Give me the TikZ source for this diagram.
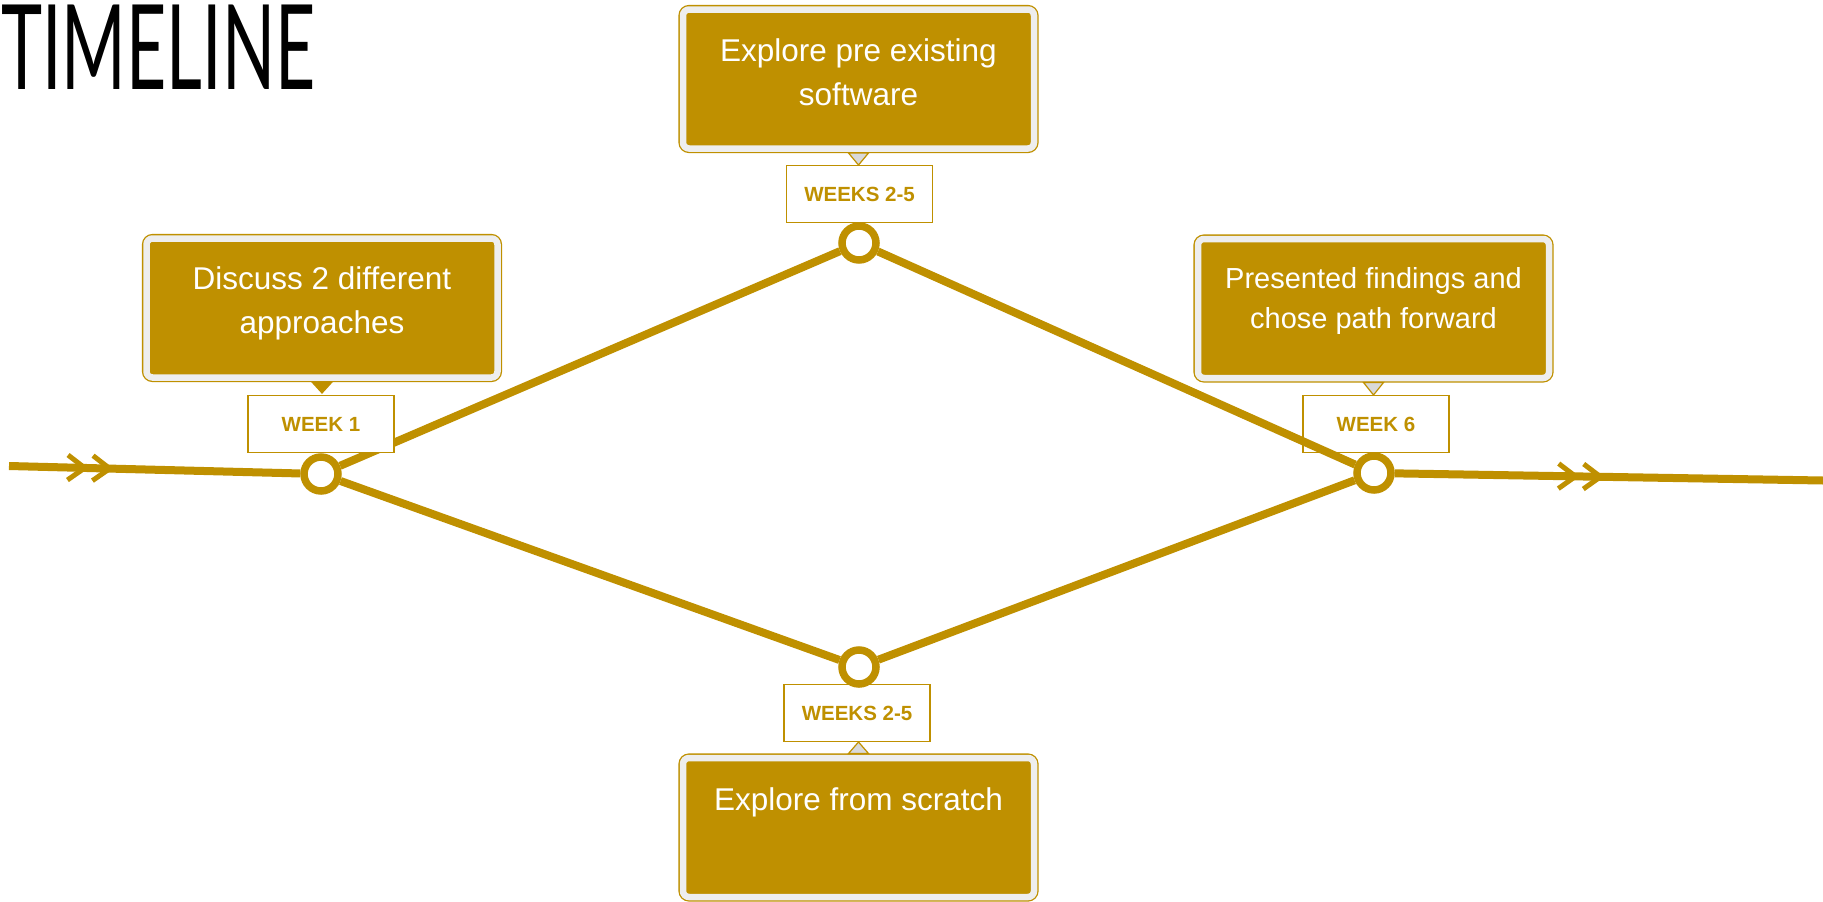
\documentclass[tikz,border=0pt]{standalone}
\usepackage{fontspec}
\setmainfont{Liberation Sans}
\newfontfamily\titlefont{Lato}
\usetikzlibrary{arrows.meta}
\usetikzlibrary{decorations.markings}
\definecolor{gold}{HTML}{BF9000}
\definecolor{cardgray}{HTML}{EEEEEE}
\definecolor{tipgray}{HTML}{D9D9D9}

\begin{document}
\begin{tikzpicture}[x=1pt, y=-1pt,
card/.style={draw=gold, line width=1.3pt, double=cardgray, double distance=6.5pt, fill=gold, rounded corners=6pt, text=white, align=center, inner sep=0pt, outer sep=0pt, minimum width=351pt, minimum height=139pt, font=\fontsize{31.5}{44}\selectfont},
weekbox/.style={draw=gold, line width=1.3pt, fill=white, text=gold, inner sep=0pt, minimum width=146pt, minimum height=57pt, font=\fontsize{20.5}{24}\selectfont\bfseries},
pointer/.style={draw=gold, line width=1.2pt, fill=tipgray, line join=miter},
milestone/.style={circle, draw=gold, line width=7.5pt, fill=white, inner sep=0pt, minimum size=34pt},
track/.style={draw=gold, line width=8pt},
chev/.tip={Straight Barb[length=17pt, width=25pt, line width=5pt]}]
\useasboundingbox (0,0) rectangle (1823,902);

\node[anchor=base west, inner sep=0pt, font=\titlefont\fontsize{118}{120}\selectfont] (title) at (1,89) {\scalebox{0.59}[1]{TIMELINE}};

\node[card, text depth=16pt] (cardL) at (322,308) {Discuss 2 different\\approaches};
\node[card, text depth=14.6pt] (cardT) at (858.5,79) {Explore pre existing\\software};
\node[card, text depth=21.8pt, font=\fontsize{29}{40}\selectfont] (cardR) at (1373.5,308.5) {Presented findings and\\chose path forward};
\node[card, text depth=57.6pt] (cardB) at (858.5,827.5) {Explore from scratch};

\draw[pointer, fill=gold] ([xshift=-10pt,yshift=-4.5pt]cardL.south) -- ([xshift=10pt,yshift=-4.5pt]cardL.south) -- ([yshift=-15.5pt]cardL.south) -- cycle;
\draw[pointer] ([xshift=-10pt,yshift=-4.5pt]cardT.south) -- ([xshift=10pt,yshift=-4.5pt]cardT.south) -- ([yshift=-16.5pt]cardT.south) -- cycle;
\draw[pointer] ([xshift=-10pt,yshift=-4.5pt]cardR.south) -- ([xshift=10pt,yshift=-4.5pt]cardR.south) -- ([yshift=-17pt]cardR.south) -- cycle;
\draw[pointer] ([xshift=-10pt,yshift=4.5pt]cardB.north) -- ([xshift=10pt,yshift=4.5pt]cardB.north) -- ([yshift=16pt]cardB.north) -- cycle;

\node[weekbox] (wkT) at (859.5,194) {WEEKS 2-5};
\node[weekbox] (wkB) at (857,713) {WEEKS 2-5};
\node[weekbox] (wk6) at (1376,424) {WEEK 6};

\node[milestone] (m1) at (321,474) {};
\node[milestone] (m2) at (859,243) {};
\node[milestone] (m3) at (859,667) {};
\node[milestone] (m4) at (1374,473) {};
\coordinate (in) at (9,466);
\coordinate (out) at (1823,480.5);

\draw[track, decoration={markings, mark=at position 80pt with {\arrow{chev}}, mark=at position 105pt with {\arrow{chev}}}, postaction={decorate}] (in) -- (m1);
\draw[track] (m1) -- (m2);
\draw[track] (m1) -- (m3);
\draw[track] (m2) -- (m4);
\draw[track] (m3) -- (m4);
\draw[track, decoration={markings, mark=at position 185pt with {\arrow{chev}}, mark=at position 210pt with {\arrow{chev}}}, postaction={decorate}] (m4) -- (out);

\node[weekbox] (wk1) at (321,424) {WEEK 1};
\end{tikzpicture}
\end{document}
